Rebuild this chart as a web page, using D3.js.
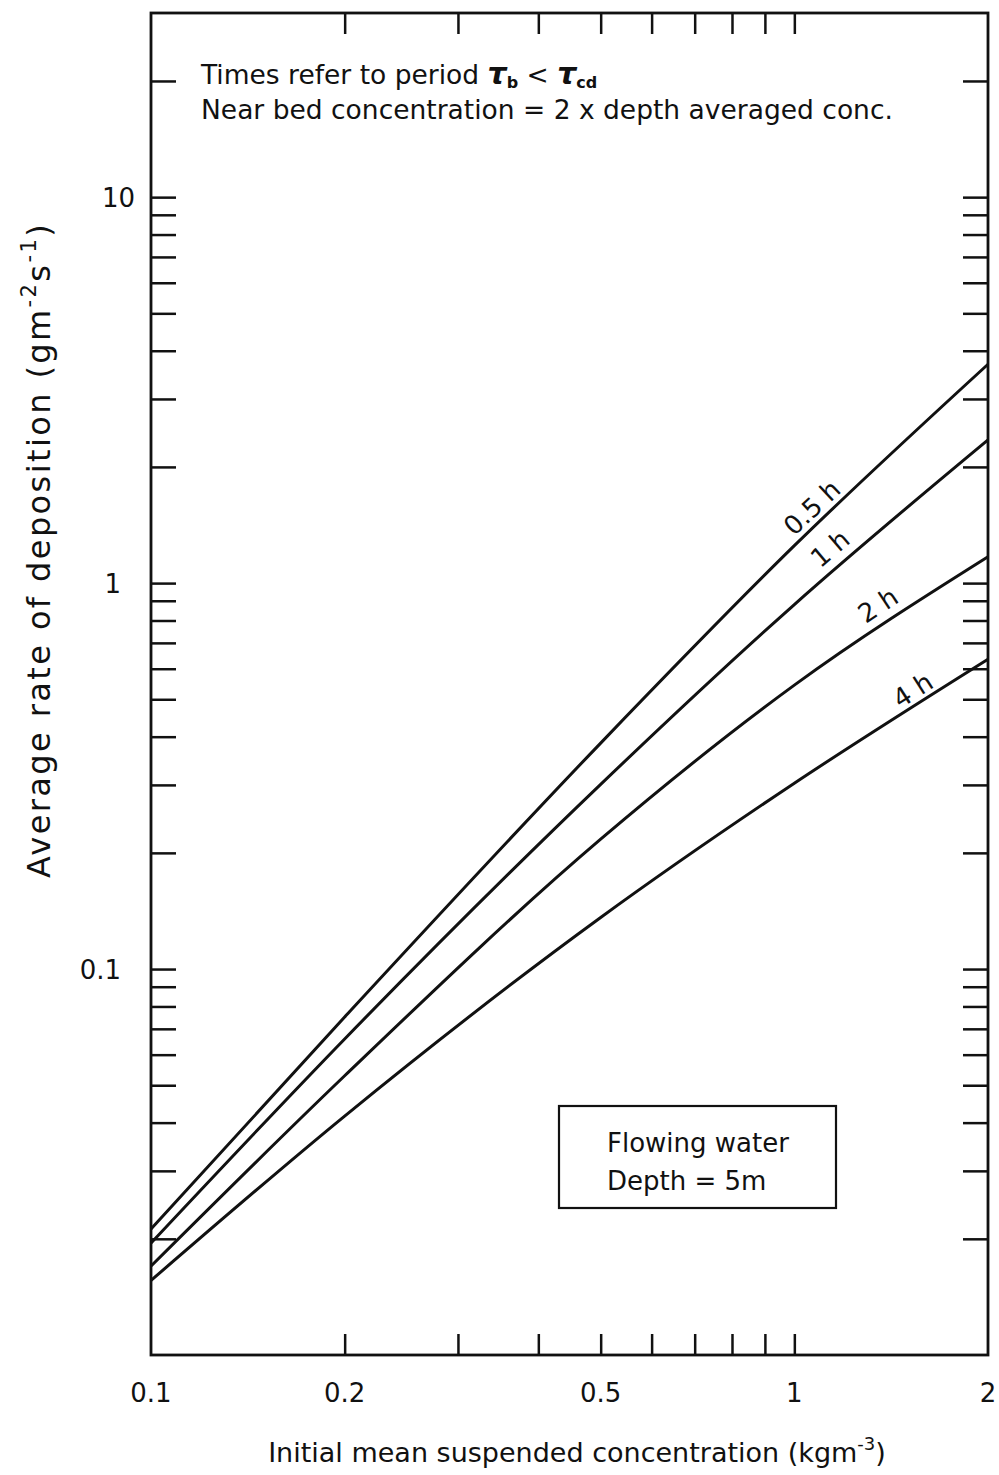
<!DOCTYPE html>
<html>
<head>
<meta charset="utf-8">
<script src="https://cdn.jsdelivr.net/npm/d3@7"></script>
<style>
  html, body { margin: 0; padding: 0; background: #fff; }
  svg { display: block; }
  text { font-family: "DejaVu Sans", sans-serif; fill: #111; }
</style>
</head>
<body>
<svg id="chart" width="999" height="1475"></svg>
<script>
// Initial mean suspended concentration (kg m^-3)
const conc = [0.1, 0.2, 0.5, 1, 2];

// Average rate of deposition (g m^-2 s^-1) for each deposition period
const rate05h = [0.0212, 0.0751, 0.385, 1.25, 3.69];
const rate1h  = [0.0195, 0.0659, 0.301, 0.88, 2.35];
const rate2h  = [0.0170, 0.0529, 0.217, 0.544, 1.17];
const rate4h  = [0.0156, 0.0416, 0.136, 0.303, 0.635];

const seriesNames = ["0.5 h", "1 h", "2 h", "4 h"];

// Where each curve's name sits (concentration, rate)
const labelConc = [1.065, 1.136, 1.349, 1.528];
const labelRate = [1.57, 1.23, 0.877, 0.528];

// Axis ticks
const xTicks = [0.2, 0.3, 0.4, 0.5, 0.6, 0.7, 0.8, 0.9, 1];
const xTickLabels = [0.1, 0.2, 0.5, 1, 2];
const yTicks = [0.02, 0.03, 0.04, 0.05, 0.06, 0.07, 0.08, 0.09, 0.1,
                0.2, 0.3, 0.4, 0.5, 0.6, 0.7, 0.8, 0.9, 1,
                2, 3, 4, 5, 6, 7, 8, 9, 10, 20];
const yTickLabels = [0.1, 1, 10];

const series = [rate05h, rate1h, rate2h, rate4h].map((vals, i) => ({
  name: seriesNames[i],
  points: conc.map((c, j) => ({ c, r: vals[j] })),
  lc: labelConc[i],
  lr: labelRate[i]
}));

const svg = d3.select("#chart");
const L = 151, R = 988, T = 13, B = 1355;

const x = d3.scaleLog().domain([0.1, 2]).range([L, R]);
const y = d3.scaleLog().domain([0.01, 30]).range([B, T]);

const fmt = v => (v >= 1 ? d3.format("d")(v) : String(v));

// Frame
svg.append("rect")
  .attr("x", L).attr("y", T).attr("width", R - L).attr("height", B - T)
  .attr("fill", "none").attr("stroke", "#111").attr("stroke-width", 2.8);

// Tick marks on all four sides, pointing inward
const tickLenX = 21, tickLenY = 25;
const axisBottom = d3.axisBottom(x).tickValues(xTicks).tickSize(-tickLenX).tickFormat("");
const axisTop = d3.axisTop(x).tickValues(xTicks).tickSize(-tickLenX).tickFormat("");
const axisLeft = d3.axisLeft(y).tickValues(yTicks).tickSize(-tickLenY).tickFormat("");
const axisRight = d3.axisRight(y).tickValues(yTicks).tickSize(-tickLenY).tickFormat("");

function styleAxis(g) {
  g.select(".domain").remove();
  g.selectAll(".tick line").attr("stroke", "#111").attr("stroke-width", 2.5);
}
svg.append("g").attr("transform", `translate(0,${B})`).call(axisBottom).call(styleAxis);
svg.append("g").attr("transform", `translate(0,${T})`).call(axisTop).call(styleAxis);
svg.append("g").attr("transform", `translate(${L},0)`).call(axisLeft).call(styleAxis);
svg.append("g").attr("transform", `translate(${R},0)`).call(axisRight).call(styleAxis);

// Tick labels
svg.append("g").selectAll("text").data(xTickLabels).join("text")
  .attr("x", d => x(d)).attr("y", B + 47)
  .attr("text-anchor", "middle").attr("font-size", 26)
  .text(fmt);

svg.append("g").selectAll("text").data(yTickLabels).join("text")
  .attr("x", d => (d >= 10 ? 135 : 121)).attr("y", d => y(d) + 10)
  .attr("text-anchor", "end").attr("font-size", 26)
  .text(fmt);

// Curves
const line = d3.line()
  .x(d => x(d.c)).y(d => y(d.r))
  .curve(d3.curveMonotoneX);

svg.append("g").selectAll("path").data(series).join("path")
  .attr("d", d => line(d.points))
  .attr("fill", "none").attr("stroke", "#111").attr("stroke-width", 3)
  .attr("stroke-linejoin", "round");

// Curve names, tilted with the local slope of each curve
function slopeAngle(s) {
  const p = s.points, a = p[p.length - 2], b = p[p.length - 1];
  const dx = x(b.c) - x(a.c), dy = y(b.r) - y(a.r);
  return Math.atan2(dy, dx) * 180 / Math.PI;
}
svg.append("g").selectAll("text").data(series).join("text")
  .attr("transform", d => `translate(${x(d.lc)},${y(d.lr)}) rotate(${slopeAngle(d)})`)
  .attr("text-anchor", "middle").attr("dy", "0.35em")
  .attr("font-size", 26)
  .text(d => d.name);

// Note at top
const note = svg.append("g").attr("font-size", 26.5);
const t1 = note.append("text").attr("x", 201).attr("y", 84);
t1.append("tspan").text("Times refer to period ");
t1.append("tspan").attr("font-style", "italic").attr("font-weight", "bold").attr("font-size", 30).text("τ");
t1.append("tspan").attr("font-weight", "bold").attr("font-size", 16).attr("dy", 4).text("b");
t1.append("tspan").attr("dy", -4).text(" < ");
t1.append("tspan").attr("font-style", "italic").attr("font-weight", "bold").attr("font-size", 30).text("τ");
t1.append("tspan").attr("font-weight", "bold").attr("font-size", 16).attr("dy", 4).text("cd");
note.append("text").attr("x", 201).attr("y", 119)
  .text("Near bed concentration = 2 x depth averaged conc.");

// Boxed annotation
svg.append("rect")
  .attr("x", 559).attr("y", 1106).attr("width", 277).attr("height", 102)
  .attr("fill", "#fff").attr("stroke", "#111").attr("stroke-width", 2.2);
svg.append("text").attr("x", 607).attr("y", 1152).attr("font-size", 26).text("Flowing water");
svg.append("text").attr("x", 607).attr("y", 1190).attr("font-size", 26).text("Depth = 5m");

// Axis titles
const xt = svg.append("text")
  .attr("x", 577).attr("y", 1462).attr("text-anchor", "middle").attr("font-size", 27);
xt.append("tspan").text("Initial mean suspended concentration (kgm");
xt.append("tspan").attr("font-size", 18).attr("dy", -12).text("-3");
xt.append("tspan").attr("dy", 12).text(")");

const yt = svg.append("text")
  .attr("transform", `translate(50,550) rotate(-90)`)
  .attr("text-anchor", "middle").attr("font-size", 32)
  .attr("letter-spacing", 2.4);
yt.append("tspan").text("Average rate of deposition (gm");
yt.append("tspan").attr("font-size", 21).attr("dy", -14).text("-2");
yt.append("tspan").attr("dy", 14).text("s");
yt.append("tspan").attr("font-size", 21).attr("dy", -14).text("-1");
yt.append("tspan").attr("dy", 14).text(")");
</script>
</body>
</html>
